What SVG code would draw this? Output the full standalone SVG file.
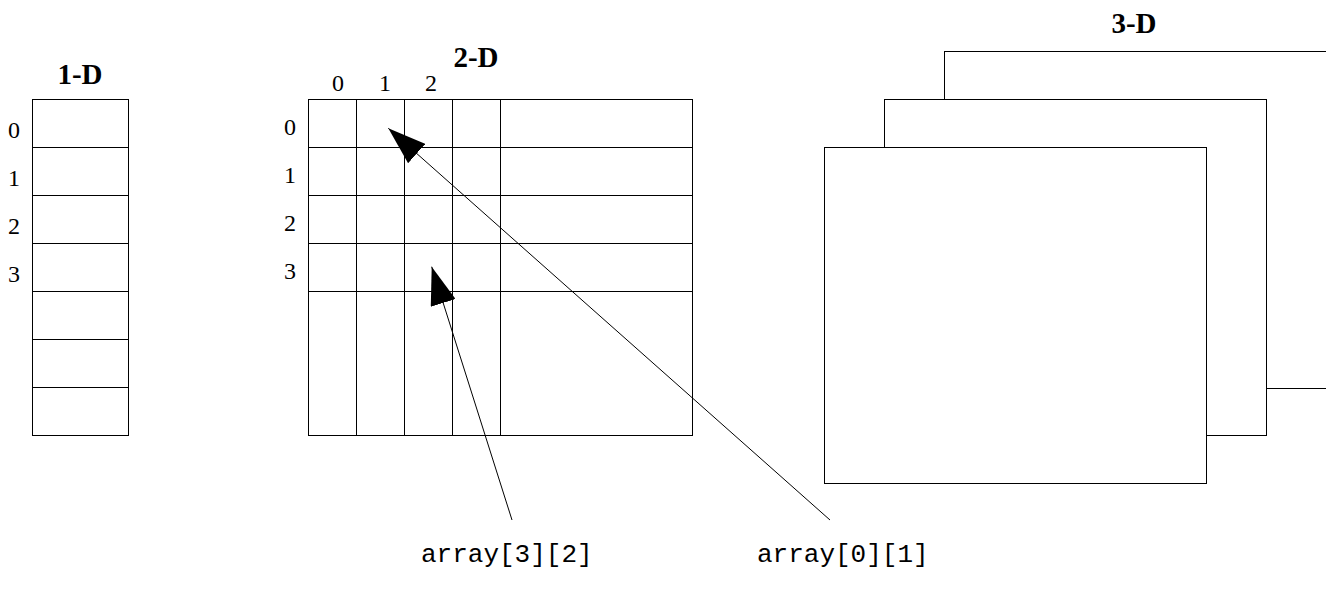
<svg xmlns="http://www.w3.org/2000/svg" width="1326" height="596" viewBox="0 0 1326 596">
<style>
.ln{stroke:#000;stroke-width:1;fill:none}
.bx{stroke:#000;stroke-width:1;fill:#fff}
.num{font-family:"Liberation Serif","Times New Roman",serif;font-size:24px;fill:#000}
.ttl{font-family:"Liberation Serif","Times New Roman",serif;font-size:29px;font-weight:bold;fill:#000;text-anchor:middle}
.code{font-family:"Liberation Mono","Courier New",monospace;font-size:26px;fill:#000}
</style>
<defs>
<marker id="ah" markerWidth="38" markerHeight="26" refX="38" refY="13" orient="auto" markerUnits="userSpaceOnUse">
<path d="M0,0 L38,13 L0,26 Z" fill="#000"/>
</marker>
</defs>
<g id="one-d">
<text class="ttl" x="80" y="84">1-D</text>
<rect class="bx" x="32.5" y="99.5" width="96" height="336"/>
<path class="ln" d="M32.5,147.5H128.5M32.5,195.5H128.5M32.5,243.5H128.5M32.5,291.5H128.5M32.5,339.5H128.5M32.5,387.5H128.5"/>
<text class="num" x="8" y="138">0</text>
<text class="num" x="8" y="186">1</text>
<text class="num" x="8" y="234">2</text>
<text class="num" x="8" y="282">3</text>
</g>
<g id="two-d">
<text class="ttl" x="476" y="67">2-D</text>
<rect class="bx" x="308.5" y="99.5" width="384" height="336"/>
<path class="ln" d="M356.5,99.5V435.5M404.5,99.5V435.5M452.5,99.5V435.5M500.5,99.5V435.5M308.5,147.5H692.5M308.5,195.5H692.5M308.5,243.5H692.5M308.5,291.5H692.5"/>
<text class="num" x="332" y="91">0</text>
<text class="num" x="379" y="91">1</text>
<text class="num" x="425" y="91">2</text>
<text class="num" x="284" y="135">0</text>
<text class="num" x="284" y="183">1</text>
<text class="num" x="284" y="231">2</text>
<text class="num" x="284" y="279">3</text>
</g>
<g id="three-d">
<text class="ttl" x="1134" y="33">3-D</text>
<rect class="bx" x="944.5" y="51.5" width="390" height="337"/>
<rect class="bx" x="884.5" y="99.5" width="382" height="336"/>
<rect class="bx" x="824.5" y="147.5" width="382" height="336"/>
</g>
<g id="connectors">
<line class="ln" x1="512" y1="520" x2="431.7" y2="266.7" marker-end="url(#ah)"/>
<line class="ln" x1="830" y1="520" x2="388.3" y2="128.3" marker-end="url(#ah)"/>
</g>
<g id="labels">
<text class="code" x="421" y="562">array[3][2]</text>
<text class="code" x="757" y="562">array[0][1]</text>
</g>
</svg>
